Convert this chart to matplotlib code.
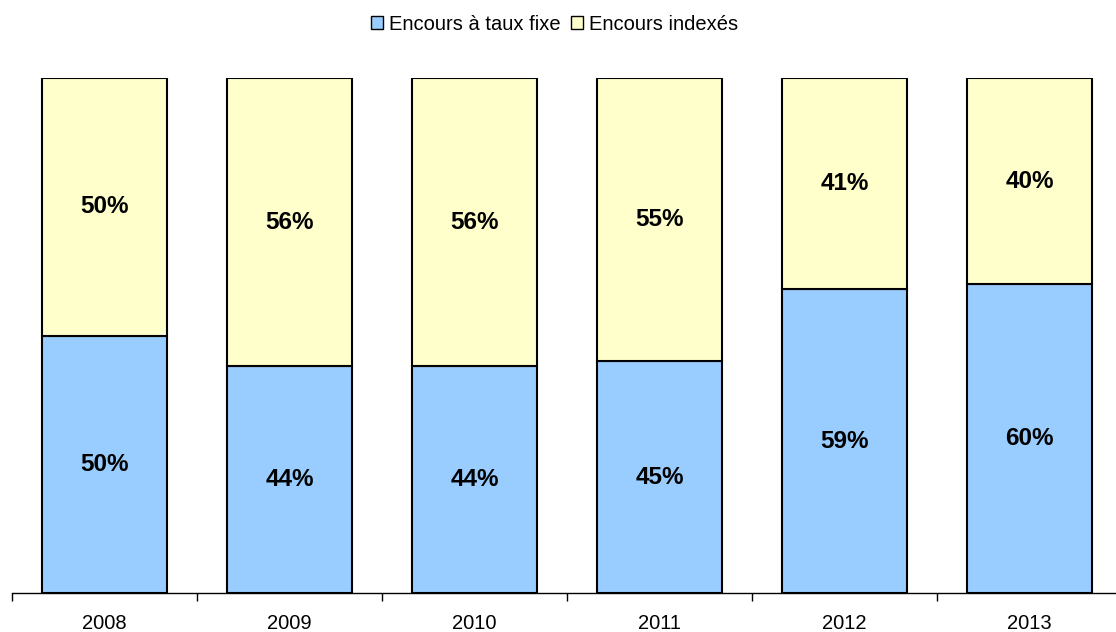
import numpy as np
import matplotlib.pyplot as plt
from matplotlib.patches import Patch

plt.rcParams['font.family'] = ['Liberation Sans', 'DejaVu Sans']

years = ['2008', '2009', '2010', '2011', '2012', '2013']
fixe = [50, 44, 44, 45, 59, 60]
indexes = [50, 56, 56, 55, 41, 40]

blue = '#99CCFF'
yellow = '#FFFFCC'

fig = plt.figure(figsize=(11.16, 6.32), dpi=100)
ax = fig.add_axes([12 / 1116, 39 / 632, 1110 / 1116, 515 / 632])

x = np.arange(len(years))
w = 0.68
ax.bar(x, fixe, w, color=blue, edgecolor='black', linewidth=1.5)
ax.bar(x, indexes, w, bottom=fixe, color=yellow, edgecolor='black', linewidth=1.5)

for i in range(len(years)):
    ax.text(x[i], fixe[i] / 2, f'{fixe[i]}%', ha='center', va='center',
            fontsize=17.5, fontweight='bold')
    ax.text(x[i], fixe[i] + indexes[i] / 2, f'{indexes[i]}%', ha='center',
            va='center', fontsize=17.5, fontweight='bold')

ax.set_xlim(-0.5, len(years) - 0.5)
ax.set_ylim(0, 100)
ax.set_yticks([])
for s in ['left', 'right', 'top']:
    ax.spines[s].set_visible(False)
ax.spines['bottom'].set_linewidth(1.0)
ax.spines['bottom'].set_clip_on(False)

ax.set_xticks(x)
ax.set_xticklabels(years, fontsize=14.5)
ax.tick_params(axis='x', which='major', length=0, pad=15)
ax.set_xticks(np.arange(len(years) + 1) - 0.5, minor=True)
ax.tick_params(axis='x', which='minor', length=6, width=1.0, direction='out')

handles = [Patch(facecolor=blue, edgecolor='black', label='Encours à taux fixe'),
           Patch(facecolor=yellow, edgecolor='black', label='Encours indexés')]
fig.legend(handles=handles, loc='center', bbox_to_anchor=(0.497, 1 - 24 / 632),
           ncol=2, frameon=False, fontsize=14.5, handlelength=0.6, handleheight=0.6,
           handletextpad=0.3, columnspacing=0.5)

fig.savefig('out.png', dpi=100)
